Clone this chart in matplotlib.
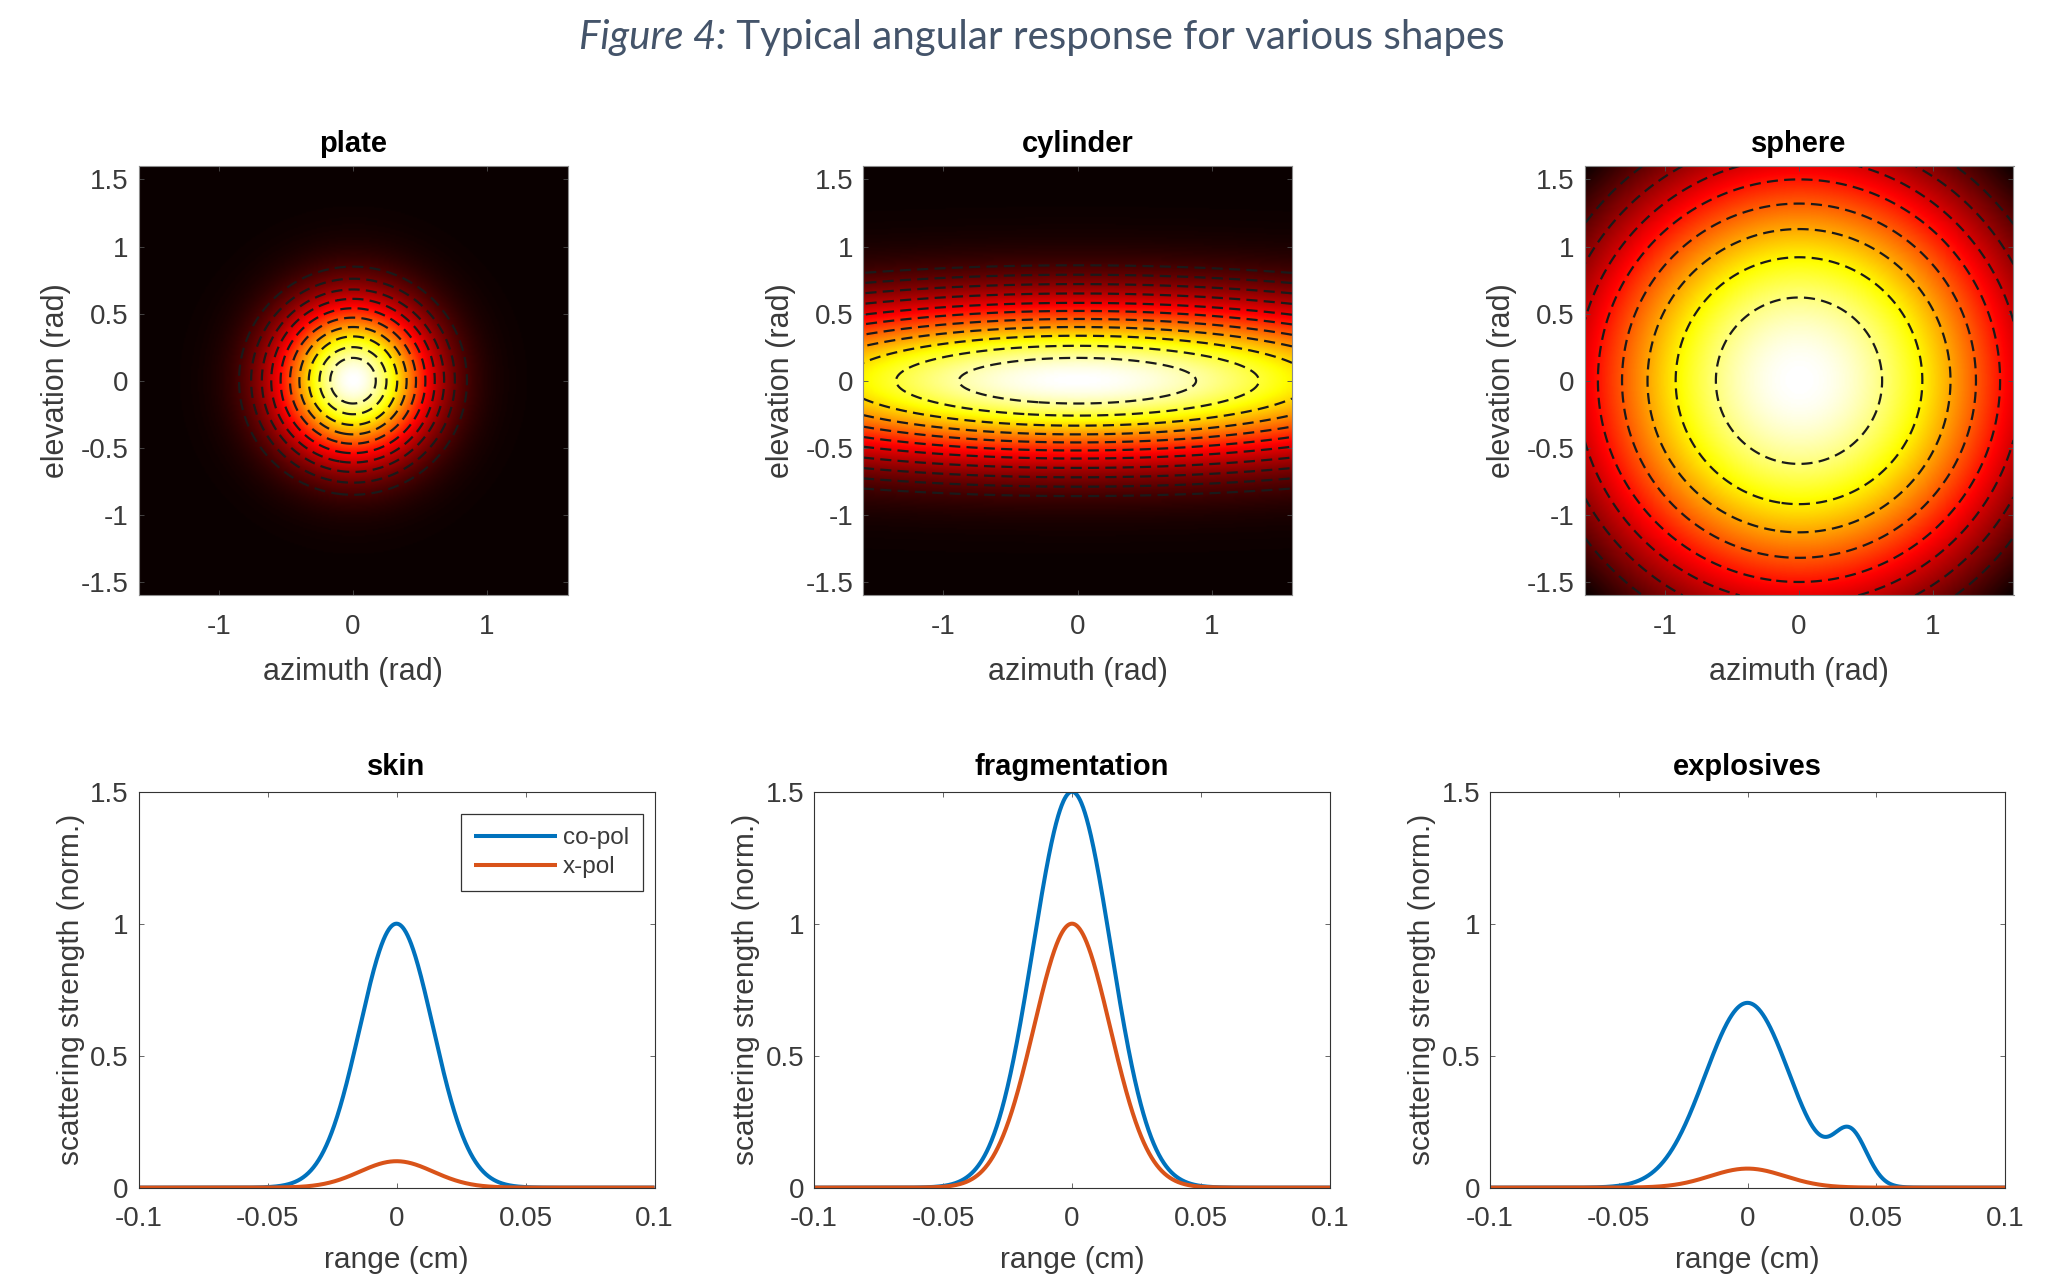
import numpy as np
import matplotlib
matplotlib.use("Agg")
import matplotlib.pyplot as plt

# ---------------------------------------------------------------- data
# angular response maps: Gaussian lobe widths (rad)
SHAPES = ["plate", "cylinder", "sphere"]
LOBE_SIGMA_AZ = [0.39, 2.03, 1.37]
LOBE_SIGMA_EL = [0.39, 0.39, 1.37]
# dashed contour rings: semi-axis along elevation (rad)
PLATE_RINGS = [0.17, 0.25, 0.33, 0.40, 0.47, 0.54, 0.61, 0.68, 0.76, 0.85]
CYLINDER_RINGS = [0.17, 0.26, 0.335, 0.40, 0.46, 0.52, 0.58, 0.65, 0.72, 0.79, 0.86]
SPHERE_RINGS = [0.62, 0.92, 1.13, 1.32, 1.50, 1.66, 1.82, 1.98]
RINGS = [PLATE_RINGS, CYLINDER_RINGS, SPHERE_RINGS]

# range profiles: pulse peak / width (cm) per material
MATERIALS = ["skin", "fragmentation", "explosives"]
COPOL_PEAK = [1.0, 1.5, 0.70]
COPOL_SIGMA = [0.0142, 0.0151, 0.0165]
XPOL_PEAK = [0.10, 1.0, 0.072]
XPOL_SIGMA = [0.0142, 0.0148, 0.0145]
# second return seen in the explosives co-pol profile
ECHO_PEAK = [0.0, 0.0, 0.19]
ECHO_POS = [0.0, 0.0, 0.040]
ECHO_SIGMA = [1.0, 1.0, 0.0065]

ANG_TICKS_X = [-1, 0, 1]
ANG_TICKS_Y = [-1.5, -1, -0.5, 0, 0.5, 1, 1.5]
ANG_LABELS_Y = ["-1.5", "-1", "-0.5", "0", "0.5", "1", "1.5"]
RNG_TICKS_X = [-0.1, -0.05, 0, 0.05, 0.1]
RNG_LABELS_X = ["-0.1", "-0.05", "0", "0.05", "0.1"]
RNG_TICKS_Y = [0, 0.5, 1, 1.5]
RNG_LABELS_Y = ["0", "0.5", "1", "1.5"]

# ---------------------------------------------------------------- style
plt.rcParams.update({
    "font.family": ["Liberation Sans", "DejaVu Sans"],
    "axes.unicode_minus": False,
    "axes.linewidth": 0.8,
    "axes.edgecolor": "0.2",
})
BLUE = "#0072BD"
ORANGE = "#D95319"
TXT = "#3a3a3a"

W, H, DPI = 2069, 1277, 100
fig = plt.figure(figsize=(W / DPI, H / DPI), dpi=DPI)


def frame(x0, y0, x1, y1):
    return [x0 / W, 1 - y1 / H, (x1 - x0) / W, (y1 - y0) / H]


TOP_BOXES = [(138.5, 166, 567.5, 595.4), (863, 166, 1292, 595.4), (1584.5, 166, 2013.5, 595.4)]
BOT_BOXES = [(138.5, 791.7, 654.5, 1187.6), (814, 791.7, 1330, 1187.6), (1490, 791.7, 2005, 1187.6)]


def style(ax, xpad, ypad_label, xpad_label):
    ax.tick_params(direction="in", top=True, right=True, length=3.7, width=0.6,
                   color="0.3", labelcolor=TXT, labelsize=20)
    ax.tick_params(axis="x", pad=xpad)
    ax.tick_params(axis="y", pad=7)
    ax.yaxis.labelpad = ypad_label
    ax.xaxis.labelpad = xpad_label


# ---------------------------------------------------------------- angular maps
lim = 1.6
g = np.linspace(-lim, lim, 321)
AZ, EL = np.meshgrid(g, g)
for i, name in enumerate(SHAPES):
    ax = fig.add_axes(frame(*TOP_BOXES[i]))
    F = np.exp(-0.5 * ((AZ / LOBE_SIGMA_AZ[i]) ** 2 + (EL / LOBE_SIGMA_EL[i]) ** 2))
    ax.imshow(F, cmap="hot", origin="lower", extent=[-lim, lim, -lim, lim],
              aspect="auto", interpolation="bilinear")
    levels = np.sort(np.exp(-0.5 * (np.array(RINGS[i]) / LOBE_SIGMA_EL[i]) ** 2))
    cs = ax.contour(AZ, EL, F, levels=levels, colors="0.1", linewidths=1.6)
    cs.set_linestyle((0, (5.0, 2.8)))
    ax.set_xlim(-lim, lim)
    ax.set_ylim(-lim, lim)
    ax.set_xticks(ANG_TICKS_X)
    ax.set_xticklabels([str(t) for t in ANG_TICKS_X])
    ax.set_yticks(ANG_TICKS_Y)
    ax.set_yticklabels(ANG_LABELS_Y)
    ax.set_title(name, fontsize=21, fontweight="bold", pad=10)
    ax.set_xlabel("azimuth (rad)", fontsize=22, color=TXT)
    ax.set_ylabel("elevation (rad)", fontsize=22, color=TXT)
    for s in ax.spines.values():
        s.set_color("0.55")
    style(ax, 13.5, 7, 12)

# ---------------------------------------------------------------- range profiles
x = np.linspace(-0.1, 0.1, 1201)
for i, name in enumerate(MATERIALS):
    ax = fig.add_axes(frame(*BOT_BOXES[i]))
    co = COPOL_PEAK[i] * np.exp(-0.5 * (x / COPOL_SIGMA[i]) ** 2) \
        + ECHO_PEAK[i] * np.exp(-0.5 * ((x - ECHO_POS[i]) / ECHO_SIGMA[i]) ** 2)
    xp = XPOL_PEAK[i] * np.exp(-0.5 * (x / XPOL_SIGMA[i]) ** 2)
    ax.plot(x, co, color=BLUE, lw=2.9, label="co-pol", solid_capstyle="butt")
    ax.plot(x, xp, color=ORANGE, lw=2.9, label="x-pol", solid_capstyle="butt")
    ax.set_xlim(-0.1, 0.1)
    ax.set_ylim(0, 1.5)
    ax.set_xticks(RNG_TICKS_X)
    ax.set_xticklabels(RNG_LABELS_X)
    ax.set_yticks(RNG_TICKS_Y)
    ax.set_yticklabels(RNG_LABELS_Y)
    ax.set_title(name, fontsize=21, fontweight="bold", pad=12)
    ax.set_xlabel("range (cm)", fontsize=21.5, color=TXT)
    ax.set_ylabel("scattering strength (norm.)", fontsize=21.5, color=TXT)
    style(ax, 13, 4, 10)
    if i == 0:
        leg = ax.legend(loc="upper right", bbox_to_anchor=(0.977, 0.944), borderaxespad=0,
                        fontsize=17.5, handlelength=3.4, handletextpad=0.25,
                        borderpad=0.55, labelspacing=0.28, fancybox=False,
                        framealpha=1, edgecolor="0.2")
        leg.get_frame().set_linewidth(0.9)
        for t in leg.get_texts():
            t.set_color(TXT)

# ---------------------------------------------------------------- figure caption
cap_font = ["Lato", "DejaVu Sans"]
cap_col = "#44546A"
t1 = fig.text(0, 0.971, "Figure 4:", fontsize=29, style="italic", family=cap_font,
              color=cap_col, va="center", ha="left")
t2 = fig.text(0, 0.971, " Typical angular response for various shapes", fontsize=29,
              family=cap_font, color=cap_col, va="center", ha="left")
fig.canvas.draw()
r = fig.canvas.get_renderer()
w1 = t1.get_window_extent(r).width
w2 = t2.get_window_extent(r).width
x0 = 1042 - (w1 + w2) / 2
t1.set_x(x0 / W)
t2.set_x((x0 + w1) / W)

fig.savefig("out.png", dpi=DPI, facecolor="white")
